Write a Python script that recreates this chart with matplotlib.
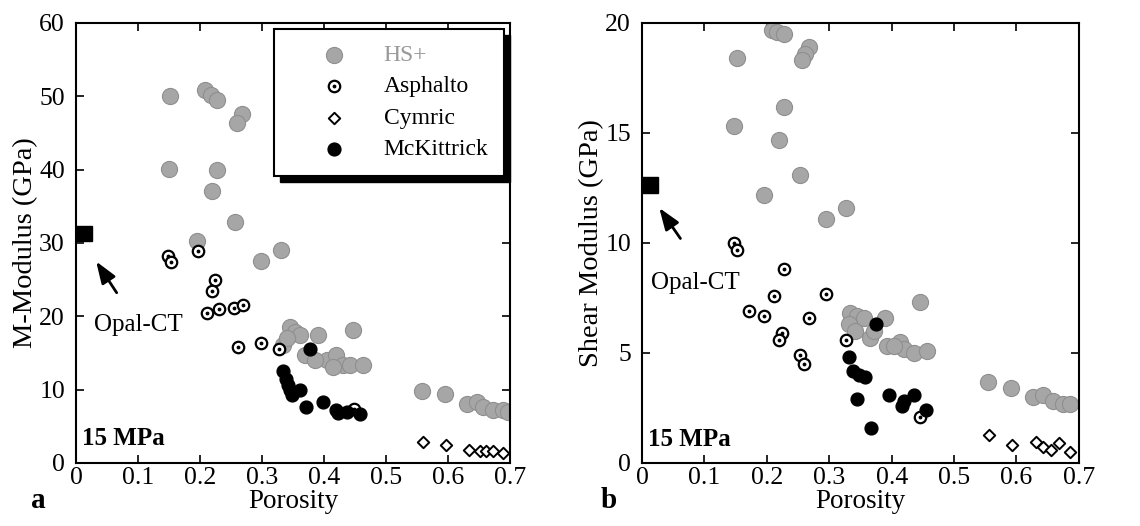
import matplotlib
matplotlib.use("Agg")
import matplotlib.pyplot as plt
from matplotlib.patches import Rectangle
from matplotlib.transforms import IdentityTransform

plt.rcParams["font.family"] = ["Liberation Serif", "DejaVu Serif"]

# panel a: M-modulus (GPa) vs porosity
hs_m_phi = [0.152, 0.150, 0.208, 0.218, 0.228, 0.267, 0.259, 0.228, 0.220, 0.256,
            0.195, 0.298, 0.330, 0.345, 0.353, 0.362, 0.334, 0.340, 0.369, 0.391,
            0.447, 0.404, 0.420, 0.431, 0.442, 0.463, 0.415, 0.386, 0.558, 0.595,
            0.630, 0.646, 0.657, 0.673, 0.689, 0.697]
hs_m_val = [50.1, 40.1, 50.8, 50.2, 49.5, 47.6, 46.4, 40.0, 37.1, 32.8,
            30.3, 27.6, 29.0, 18.6, 17.9, 17.5, 16.1, 17.0, 14.7, 17.5,
            18.2, 14.1, 14.7, 13.4, 13.4, 13.4, 13.1, 14.0, 9.8, 9.4,
            8.1, 8.3, 7.7, 7.2, 7.2, 7.0]
asp_m_phi = [0.149, 0.153, 0.196, 0.224, 0.220, 0.212, 0.230, 0.255, 0.269, 0.261,
             0.298, 0.328, 0.449]
asp_m_val = [28.2, 27.4, 28.9, 24.9, 23.4, 20.4, 21.0, 21.1, 21.6, 15.8,
             16.3, 15.6, 7.4]
cym_m_phi = [0.559, 0.596, 0.634, 0.652, 0.662, 0.673, 0.689]
cym_m_val = [2.9, 2.4, 1.8, 1.7, 1.7, 1.7, 1.3]
mck_m_phi = [0.377, 0.334, 0.339, 0.342, 0.345, 0.348, 0.361, 0.371, 0.398, 0.420,
             0.437, 0.423, 0.458]
mck_m_val = [15.6, 12.5, 11.5, 10.6, 9.9, 9.3, 9.9, 7.7, 8.3, 7.2,
             7.0, 6.8, 6.7]

# panel b: shear modulus (GPa) vs porosity
hs_g_phi = [0.208, 0.216, 0.227, 0.267, 0.261, 0.256, 0.152, 0.228, 0.148, 0.220,
            0.253, 0.195, 0.295, 0.327, 0.446, 0.333, 0.344, 0.355, 0.331, 0.342,
            0.366, 0.390, 0.392, 0.414, 0.419, 0.435, 0.456, 0.403, 0.371, 0.555,
            0.592, 0.627, 0.643, 0.659, 0.675, 0.686]
hs_g_val = [19.7, 19.6, 19.5, 18.9, 18.6, 18.3, 18.4, 16.2, 15.3, 14.7,
            13.1, 12.2, 11.1, 11.6, 7.3, 6.8, 6.7, 6.6, 6.3, 6.0,
            5.7, 6.6, 5.3, 5.5, 5.2, 5.0, 5.1, 5.3, 6.0, 3.7,
            3.4, 3.0, 3.1, 2.8, 2.7, 2.7]
asp_g_phi = [0.148, 0.152, 0.228, 0.171, 0.195, 0.212, 0.224, 0.220, 0.267, 0.295,
             0.253, 0.260, 0.327, 0.446]
asp_g_val = [10.0, 9.7, 8.8, 6.9, 6.7, 7.6, 5.9, 5.6, 6.6, 7.7,
             4.9, 4.5, 5.6, 2.1]
cym_g_phi = [0.556, 0.593, 0.631, 0.643, 0.656, 0.668, 0.686]
cym_g_val = [1.25, 0.84, 0.96, 0.72, 0.61, 0.89, 0.50]
mck_g_phi = [0.375, 0.332, 0.338, 0.347, 0.358, 0.344, 0.367, 0.395, 0.419, 0.417,
             0.435, 0.455]
mck_g_val = [6.3, 4.8, 4.2, 4.0, 3.9, 2.9, 1.6, 3.1, 2.8, 2.6,
             3.1, 2.4]

x_ticks = [0, 0.1, 0.2, 0.3, 0.4, 0.5, 0.6, 0.7]
x_labels = ["0", "0.1", "0.2", "0.3", "0.4", "0.5", "0.6", "0.7"]
legend_labels = ["HS+", "Asphalto", "Cymric", "McKittrick"]

HS_GRAY = "#a6a6a6"
ARROW = dict(arrowstyle="-|>,head_length=0.55,head_width=0.2", color="black",
             lw=2, mutation_scale=24)


def draw_panel(ax, hs, asp, cym, mck):
    h_hs = ax.scatter(hs[0], hs[1], s=135, c=HS_GRAY, edgecolors="#8f8f8f",
                      linewidths=0.8, zorder=2)
    h_asp = ax.scatter(asp[0], asp[1], s=68, facecolors="white", edgecolors="black",
                       linewidths=1.6, zorder=3)
    h_dot = ax.scatter(asp[0], asp[1], s=3, c="black", zorder=4)
    h_cym = ax.scatter(cym[0], cym[1], marker="D", s=34, facecolors="white",
                       edgecolors="black", linewidths=1.4, zorder=3)
    h_mck = ax.scatter(mck[0], mck[1], s=85, c="black", zorder=3)
    return [h_hs, (h_asp, h_dot), h_cym, h_mck]


def style_axes(ax, ymax, ystep, ylabel):
    ax.set_xlim(0, 0.7)
    ax.set_ylim(0, ymax)
    ax.set_xticks(x_ticks)
    ax.set_xticklabels(x_labels)
    ax.set_yticks(range(0, ymax + 1, ystep))
    ax.tick_params(direction="in", top=True, right=True, length=6, width=1.2,
                   labelsize=18.5)
    ax.tick_params(axis="y", pad=8)
    ax.tick_params(axis="x", pad=3)
    for sp in ax.spines.values():
        sp.set_linewidth(1.5)
    ax.set_xlabel("Porosity", fontsize=19.5, labelpad=0)
    ax.set_ylabel(ylabel, fontsize=20.5, labelpad=1)


fig = plt.figure(figsize=(11.4, 5.26), dpi=100)
ax_a = fig.add_axes([0.0667, 0.1198, 0.3807, 0.8365])
ax_b = fig.add_axes([0.5632, 0.1198, 0.3832, 0.8365])

handles = draw_panel(ax_a, (hs_m_phi, hs_m_val), (asp_m_phi, asp_m_val),
                     (cym_m_phi, cym_m_val), (mck_m_phi, mck_m_val))
draw_panel(ax_b, (hs_g_phi, hs_g_val), (asp_g_phi, asp_g_val),
           (cym_g_phi, cym_g_val), (mck_g_phi, mck_g_val))

style_axes(ax_a, 60, 10, "M-Modulus (GPa)")
style_axes(ax_b, 20, 5, "Shear Modulus (GPa)")

# opal-CT marker, arrow and labels
ax_a.add_patch(Rectangle((0, 30.3), 0.026, 2.0, color="black", clip_on=False, zorder=5))
ax_a.annotate("", xy=(0.030, 27.8), xytext=(0.068, 22.9), arrowprops=ARROW)
ax_a.text(0.10, 18.8, "Opal-CT", fontsize=18, ha="center", va="center")
ax_a.text(0.009, 3.3, "15 MPa", fontsize=18, fontweight="bold", ha="left", va="center")

ax_b.add_patch(Rectangle((0, 12.25), 0.026, 0.75, color="black", clip_on=False, zorder=5))
ax_b.annotate("", xy=(0.025, 11.7), xytext=(0.064, 10.1), arrowprops=ARROW)
ax_b.text(0.085, 8.2, "Opal-CT", fontsize=18, ha="center", va="center")
ax_b.text(0.009, 1.07, "15 MPa", fontsize=18, fontweight="bold", ha="left", va="center")

leg = ax_a.legend(handles, legend_labels, loc="upper left", bbox_to_anchor=(0.456, 0.986),
                  borderaxespad=0, fontsize=17, frameon=True, fancybox=False,
                  edgecolor="black", framealpha=1, borderpad=0.65, labelspacing=0.42,
                  handlelength=3.8, handletextpad=0.2)
leg.get_frame().set_linewidth(1.5)
leg.set_zorder(6)
leg.get_texts()[0].set_color("#999999")

fig.text(0.027, 0.035, "a", fontsize=21, fontweight="bold", ha="left", va="baseline")
fig.text(0.527, 0.035, "b", fontsize=21, fontweight="bold", ha="left", va="baseline")

# black drop shadow behind the legend box
fig.canvas.draw()
bb = leg.get_frame().get_window_extent()
ax_a.add_patch(Rectangle((bb.x0 + 6, bb.y0 - 6), bb.width, bb.height, color="black",
                         transform=IdentityTransform(), clip_on=False, zorder=5.5))

fig.savefig("out.png", dpi=100)
